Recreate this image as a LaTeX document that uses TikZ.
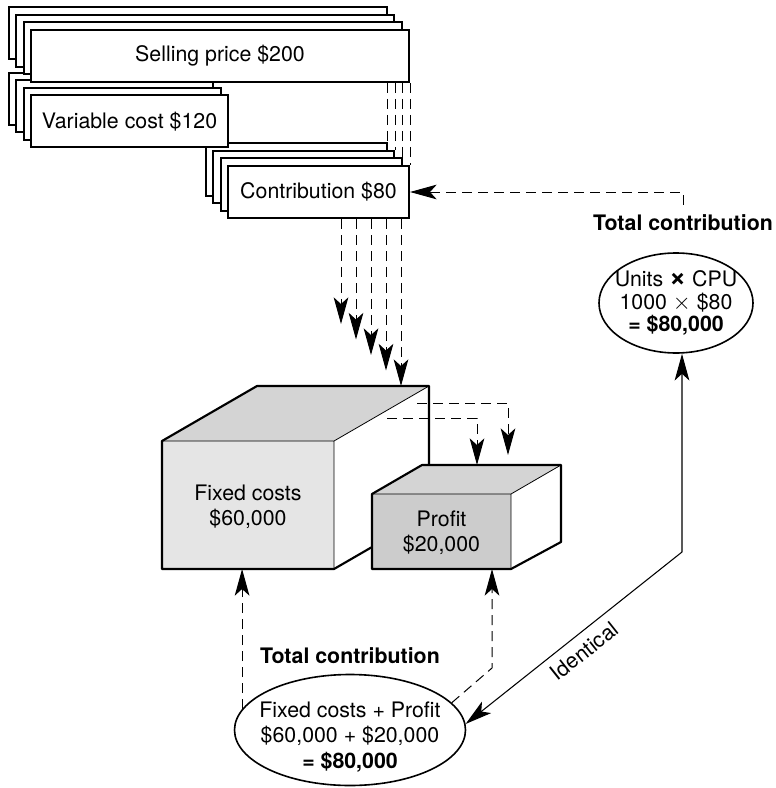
\documentclass[tikz,border=0pt]{standalone}
\usepackage{fontspec}
\setmainfont{TeX Gyre Heros}
\usetikzlibrary{
	arrows.meta,
	calc,
	shapes.geometric,
	positioning
}

\tikzset{
	card/.style={draw, fill=white, line width=1.5pt, minimum height=39pt, inner sep=0pt},
	flow/.style={line width=0.75pt, dash pattern=on 7.5pt off 4.5pt},
	link/.style={line width=0.8pt},
	bubble/.style={ellipse, draw, line width=1.2pt, inner sep=0pt},
	head/.style={font=\fontsize{16}{19}\selectfont\bfseries},
	edge/.style={line width=0.6pt},
	rim/.style={line width=1.6pt, line join=round}
}

\begin{document}
\begin{tikzpicture}[x=0.75pt, y=-0.75pt, >={Stealth[length=20pt, width=11pt, inset=5pt]}, font=\fontsize{16}{19}\selectfont]
		\useasboundingbox (0,0) rectangle (775,788);
		
		% stacked cards
		\coordinate (cbc) at (318.5,192);
		\coordinate (vcc) at (129.5,121.5);
		\coordinate (spc) at (220,56);
		\foreach \d in {3,2,1}
			\node[card, minimum width=135.75pt] (cb-\d) at ([shift={(-7.5*\d,-7.5*\d)}]cbc) {};
		\node[card, minimum width=135.75pt] (cb) at (cbc) {Contribution \$80};
		\foreach \d in {3,2,1}
			\node[card, minimum width=147.75pt] (vc-\d) at ([shift={(-7.5*\d,-7.5*\d)}]vcc) {};
		\node[card, minimum width=147.75pt] (vc) at (vcc) {Variable cost \$120};
		\foreach \d in {3,2,1}
			\node[card, minimum width=283.5pt] (sp-\d) at ([shift={(-7.5*\d,-7.5*\d)}]spc) {};
		\node[card, minimum width=283.5pt] (sp) at (spc) {Selling price \$200};
		
		\foreach \d in {0,...,3}
			\draw[flow] ([xshift=-\d*5.625pt]sp.south east) -- ([shift={(-7.5*\d,-7.5*\d)}]cb.north east);
		
		% fixed costs block
		\coordinate (F1) at (162,569);
		\coordinate (F2) at (334,569);
		\coordinate (F3) at (334,441);
		\coordinate (F4) at (162,441);
		\coordinate (B2) at (429,514);
		\coordinate (B3) at (429,386);
		\coordinate (B4) at (257,386);
		\fill[black!10] (F1) rectangle (F3);
		\fill[black!17] (F4) -- (B4) -- (B3) -- (F3) -- cycle;
		\fill[white] (F2) -- (F3) -- (B3) -- (B2) -- cycle;
		\draw[edge] (F4) -- (F3) -- (F2) (F3) -- (B3);
		\draw[rim] (F1) -- (F4) -- (B4) -- (B3) -- (B2) -- (F2) -- cycle;
		\node[align=center] (fcl) at (248,507) {Fixed costs\\\$60,000};
		
		% profit block
		\coordinate (P1) at (372,569);
		\coordinate (P2) at (511,569);
		\coordinate (P3) at (511,494);
		\coordinate (P4) at (372,494);
		\coordinate (Q2) at (561,542);
		\coordinate (Q3) at (561,465);
		\coordinate (Q4) at (422,465);
		\fill[black!20] (P1) rectangle (P3);
		\fill[black!17] (P4) -- (Q4) -- (Q3) -- (P3) -- cycle;
		\fill[white] (P2) -- (P3) -- (Q3) -- (Q2) -- cycle;
		\draw[edge] (P4) -- (P3) -- (P2) (P3) -- (Q3);
		\draw[rim] (P1) -- (P4) -- (Q4) -- (Q3) -- (Q2) -- (P2) -- cycle;
		\node[align=center] (pfl) at (441.5,533) {Profit\\\$20,000};
		
		% contribution poured into the blocks
		\foreach \i in {0,...,4}
			\draw[flow,->] ($(cb.south)+(22.5+15*\i,0)$) -- ++(0,105+15.5*\i);
		\coordinate (ra) at (387,418);
		\coordinate (pa) at (477,465);
		\coordinate (rb) at (417,403);
		\coordinate (pb) at (508,455);
		\draw[flow,->] (ra) -| (pa);
		\draw[flow,->] (rb) -| (pb);
		
		% the two ways to the total
		\node[head] (tc1) at (683,223) {Total contribution};
		\node[bubble, minimum width=115.5pt, minimum height=75pt] (cpu) at (676,303) {};
		\node[align=center, font=\fontsize{16}{17}\selectfont] (cpul) at (676,303)
			{Units {\fontsize{22}{17}\selectfont\bfseries ×} CPU\\1000 $\times$ \$80\\\textbf{= \$80,000}};
		\draw[flow,->] ([yshift=4pt]tc1.north) |- (cb.east);
		
		\node[head] (tc2) at (350,656) {Total contribution};
		\node[bubble, minimum width=173.25pt, minimum height=83.25pt] (fcp) at (350,730) {};
		\node[align=center] (fcpl) at (350,737) {Fixed costs + Profit\\\$60,000 + \$20,000\\\textbf{= \$80,000}};
		\draw[flow,->] (fcp.169) -- (fcp.169 |- F1);
		\coordinate (pk) at (492,668);
		\draw[flow,->] (fcp.15) -- (pk) -- (pk |- P1);
		
		\coordinate (bend) at (682,552);
		\draw[link,<->] (fcp.3) -- (bend) node[sloped, below=3pt, pos=0.5] (idl) {Identical} -- (cpu.south -| bend);
	\end{tikzpicture}
\end{document}
